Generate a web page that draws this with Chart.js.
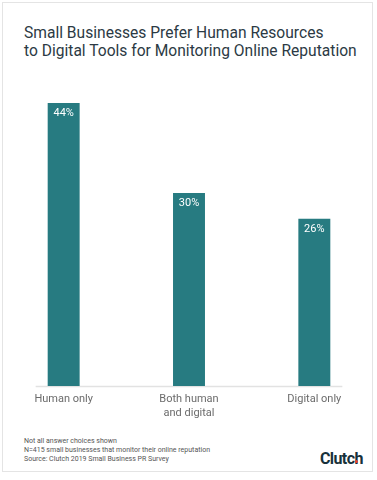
<!DOCTYPE html>
<html>
<head>
<meta charset="utf-8">
<script src="https://cdn.jsdelivr.net/npm/chart.js@4/dist/chart.umd.min.js"></script>
<style>
  html, body { margin: 0; padding: 0; background: #fff; }
  #page { position: relative; width: 377px; height: 480px; overflow: hidden; font-family: Roboto, "Noto Sans", sans-serif; }
  #frame { position: absolute; left: 2px; top: 2px; width: 371px; height: 470px; border: 1px solid #e4e4e4; box-sizing: border-box; }
  #title { position: absolute; left: 24px; top: 24px; font-size: 15.6px; line-height: 18px; color: #2c3a44; white-space: nowrap; }
  #wrap { position: absolute; left: 0; top: 90px; width: 377px; height: 330px; }
  #notes { position: absolute; left: 24px; top: 437px; font-size: 7px; line-height: 9px; color: #555; white-space: nowrap; }
  #logo { position: absolute; left: 320px; top: 449px; font-size: 16px; font-weight: bold; color: #17313b; letter-spacing: -0.6px; }
  #logo span.dot { position: absolute; width: 3px; height: 3px; border-radius: 50%; background: #e8412c; left: 35px; top: 11px; }
</style>
</head>
<body>
<div id="page">
  <div id="frame"></div>
  <div id="title">Small Businesses Prefer Human Resources<br>to Digital Tools for Monitoring Online Reputation</div>
  <div id="wrap"><canvas id="c" width="377" height="330"></canvas></div>
  <div id="notes">Not all answer choices shown<br>N=415 small businesses that monitor their online reputation<br>Source: Clutch 2019 Small Business PR Survey</div>
  <div id="logo">Clutch<span class="dot"></span></div>
</div>
<script>
const categories = [["Human only"], ["Both human", "and digital"], ["Digital only"]];
const values = [44, 30, 26];
const yMax = 44;

const valueLabels = {
  id: 'valueLabels',
  beforeDatasetsDraw(chart) {
    const ctx = chart.ctx;
    const xs = chart.scales.x;
    const y = chart.scales.y.getPixelForValue(0);
    const left = xs.getPixelForValue(0) - 28;
    const right = xs.getPixelForValue(categories.length - 1) + 28;
    ctx.save();
    ctx.strokeStyle = '#e2e2e2';
    ctx.lineWidth = 1.5;
    ctx.beginPath();
    ctx.moveTo(left, y + 0.5);
    ctx.lineTo(right, y + 0.5);
    ctx.stroke();
    ctx.restore();
  },
  afterDatasetsDraw(chart) {
    const ctx = chart.ctx;
    const meta = chart.getDatasetMeta(0);
    ctx.save();
    ctx.fillStyle = '#ffffff';
    ctx.font = '11px Roboto, sans-serif';
    ctx.textAlign = 'center';
    ctx.textBaseline = 'middle';
    meta.data.forEach((bar, i) => {
      ctx.fillText(values[i] + '%', bar.x, bar.y + 10);
    });
    ctx.restore();
  }
};

new Chart(document.getElementById('c'), {
  type: 'bar',
  data: {
    labels: categories,
    datasets: [{
      data: values,
      backgroundColor: '#277b81',
      borderWidth: 0,
      barPercentage: 0.255,
      categoryPercentage: 1
    }]
  },
  options: {
    responsive: false,
    animation: false,
    layout: { padding: { top: 13, left: 1, right: 0, bottom: 0 } },
    plugins: { legend: { display: false }, tooltip: { enabled: false } },
    scales: {
      y: { display: false, min: 0, max: yMax },
      x: {
        grid: { display: false, drawTicks: false },
        border: { display: false },
        ticks: {
          padding: 7,
          color: '#6b6b6b',
          font: { family: 'Roboto, sans-serif', size: 11 },
          maxRotation: 0,
          autoSkip: false
        },
        afterFit(scale) { scale.height = 34; }
      }
    }
  },
  plugins: [valueLabels]
});
</script>
</body>
</html>
